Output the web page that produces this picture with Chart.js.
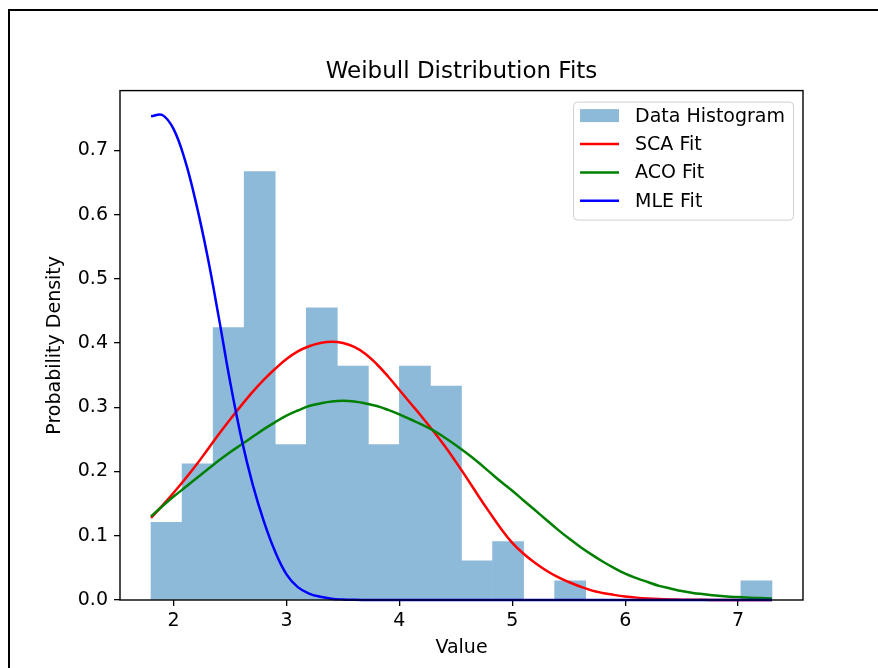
<!DOCTYPE html>
<html>
<head>
<meta charset="utf-8">
<title>Weibull Distribution Fits</title>
<script src="https://cdn.jsdelivr.net/npm/chart.js@4/dist/chart.umd.min.js"></script>
<style>
  body { margin: 0; background: #fff; }
  #wrap { position: relative; width: 878px; height: 668px; overflow: hidden; }
  #frame { position: absolute; left: 8px; top: 9px; right: -10px; bottom: -10px;
           border-left: 2px solid #000; border-top: 2px solid #000; }
  canvas { position: absolute; left: 0; top: 0; }
</style>
</head>
<body>
<div id="wrap">
  <div id="frame"></div>
  <canvas id="weibullChart" width="878" height="668"></canvas>
</div>
<script>
// histogram (20 bins, density)
const binCenters = [1.9375, 2.2125, 2.4875, 2.7625, 3.0375, 3.3125, 3.5875, 3.8625, 4.1375, 4.4125,
                    4.6875, 4.9625, 5.2375, 5.5125, 5.7875, 6.0625, 6.3375, 6.6125, 6.8875, 7.1625];
const histDensity = [0.121, 0.212, 0.424, 0.667, 0.242, 0.455, 0.364, 0.242, 0.364, 0.333,
                     0.061, 0.091, 0, 0.030, 0, 0, 0, 0, 0, 0.030];

// fitted curves
const fitX = [1.8, 1.9, 2.0, 2.1, 2.2, 2.3, 2.4, 2.5, 2.6, 2.7, 2.8, 2.9, 3.0, 3.1, 3.2, 3.3, 3.4, 3.5, 3.6, 3.7,
              3.8, 3.9, 4.0, 4.1, 4.2, 4.3, 4.4, 4.5, 4.6, 4.7, 4.8, 4.9, 5.0, 5.1, 5.2, 5.3, 5.4, 5.5, 5.6, 5.7,
              5.8, 5.9, 6.0, 6.1, 6.2, 6.3, 6.4, 6.5, 6.6, 6.7, 6.8, 6.9, 7.0, 7.1, 7.2, 7.3];
const scaFit = [0.128, 0.147, 0.167, 0.188, 0.210, 0.234, 0.258, 0.281, 0.303, 0.324, 0.343, 0.360, 0.375, 0.387,
                0.395, 0.400, 0.402, 0.400, 0.394, 0.383, 0.367, 0.348, 0.327, 0.306, 0.285, 0.263, 0.240, 0.215,
                0.189, 0.162, 0.136, 0.111, 0.089, 0.072, 0.058, 0.046, 0.036, 0.028, 0.021, 0.015, 0.011, 0.008,
                0.0055, 0.0037, 0.0024, 0.0015, 0.0009, 0.0005, 0.0003, 0.0002, 0.0001, 0, 0, 0, 0, 0];
const acoFit = [0.130, 0.146, 0.161, 0.175, 0.189, 0.203, 0.217, 0.230, 0.242, 0.254, 0.266, 0.277, 0.287, 0.295,
                0.302, 0.306, 0.309, 0.310, 0.309, 0.306, 0.302, 0.296, 0.289, 0.281, 0.273, 0.264, 0.253, 0.241,
                0.228, 0.214, 0.199, 0.184, 0.170, 0.155, 0.140, 0.125, 0.110, 0.096, 0.083, 0.071, 0.060, 0.050,
                0.041, 0.034, 0.028, 0.022, 0.018, 0.014, 0.011, 0.009, 0.007, 0.0055, 0.0045, 0.0035, 0.003, 0.0025];
const mleFit = [0.753, 0.755, 0.733, 0.685, 0.617, 0.535, 0.440, 0.340, 0.252, 0.180, 0.122, 0.075, 0.040, 0.020,
                0.010, 0.005, 0.002, 0.0008, 0.0003, 0.0001, 0, 0, 0, 0, 0, 0, 0, 0,
                0, 0, 0, 0, 0, 0, 0, 0, 0, 0, 0, 0, 0, 0,
                0, 0, 0, 0, 0, 0, 0, 0, 0, 0, 0, 0, 0, 0];

const xTicks = [2, 3, 4, 5, 6, 7];
const yTicks = [0, 0.1, 0.2, 0.3, 0.4, 0.5, 0.6, 0.7];

Chart.defaults.font.family = "'DejaVu Sans', sans-serif";
Chart.defaults.font.size = 19;
Chart.defaults.color = '#000';

const pairs = (xs, ys) => xs.map((x, i) => ({ x: x, y: ys[i] }));

// full box around the plot, like matplotlib spines
const axesBox = {
    id: 'axesBox',
    afterDatasetsDraw(chart) {
        const { ctx, chartArea } = chart;
        ctx.save();
        ctx.strokeStyle = '#000';
        ctx.lineWidth = 1.4;
        ctx.strokeRect(chartArea.left, chartArea.top, chartArea.right - chartArea.left, chartArea.bottom - chartArea.top);
        ctx.restore();
    }
};

// legend inside the plot, upper right
const boxLegend = {
    id: 'boxLegend',
    afterDraw(chart) {
        const { ctx, chartArea } = chart;
        const sets = chart.data.datasets;
        ctx.save();
        ctx.font = "19px 'DejaVu Sans'";
        const textW = Math.max(...sets.map(d => ctx.measureText(d.label).width));
        const w = 62 + textW + 8;
        const h = 118;
        const x0 = chartArea.right - 10 - w;
        const y0 = chartArea.top + 11;
        ctx.beginPath();
        ctx.roundRect(x0 + 0.5, y0 + 0.5, w, h, 4);
        ctx.fillStyle = 'rgba(255,255,255,0.8)';
        ctx.fill();
        ctx.strokeStyle = '#d0d0d0';
        ctx.lineWidth = 1;
        ctx.stroke();
        sets.forEach((d, i) => {
            const cy = y0 + 14 + i * 28.4;
            if (d.type === 'bar') {
                ctx.fillStyle = d.backgroundColor;
                ctx.fillRect(x0 + 7, cy - 6.5, 39, 13);
            } else {
                ctx.strokeStyle = d.borderColor;
                ctx.lineWidth = 2.5;
                ctx.beginPath();
                ctx.moveTo(x0 + 7, cy);
                ctx.lineTo(x0 + 46, cy);
                ctx.stroke();
            }
            ctx.fillStyle = '#000';
            ctx.textBaseline = 'middle';
            ctx.textAlign = 'left';
            ctx.fillText(d.label, x0 + 62, cy + 1);
        });
        ctx.restore();
    }
};

const weibullChart = document.getElementById('weibullChart');

new Chart(weibullChart, {
    type: 'bar',
    data: {
        datasets: [{
            type: 'bar',
            label: 'Data Histogram',
            data: pairs(binCenters, histDensity),
            backgroundColor: '#8ebad9',
            borderWidth: 0,
            barPercentage: 1,
            categoryPercentage: 1,
            order: 4
        }, {
            type: 'line',
            label: 'SCA Fit',
            data: pairs(fitX, scaFit),
            borderColor: '#ff0000',
            borderWidth: 2.5,
            pointRadius: 0,
            tension: 0.4,
            clip: 4,
            order: 3
        }, {
            type: 'line',
            label: 'ACO Fit',
            data: pairs(fitX, acoFit),
            borderColor: '#008000',
            borderWidth: 2.5,
            pointRadius: 0,
            tension: 0.4,
            clip: 4,
            order: 2
        }, {
            type: 'line',
            label: 'MLE Fit',
            data: pairs(fitX, mleFit),
            borderColor: '#0000ff',
            borderWidth: 2.5,
            pointRadius: 0,
            tension: 0.4,
            clip: 4,
            order: 1
        }]
    },
    options: {
        responsive: false,
        animation: false,
        events: [],
        layout: {
            padding: { left: 44, right: 75, top: 0, bottom: 0 }
        },
        scales: {
            x: {
                type: 'linear',
                min: 1.525,
                max: 7.575,
                offset: false,
                afterBuildTicks: (scale) => { scale.ticks = xTicks.map(v => ({ value: v })); },
                afterFit: (scale) => { scale.height = 68; },
                ticks: { padding: 4, callback: (v) => String(v) },
                grid: { offset: false, drawOnChartArea: false, drawTicks: true, tickLength: 6, color: '#000', lineWidth: 1.3 },
                border: { display: false },
                title: { display: true, text: 'Value', padding: { top: 0, bottom: 9 } }
            },
            y: {
                type: 'linear',
                min: 0,
                max: 0.793,
                afterBuildTicks: (scale) => { scale.ticks = yTicks.map(v => ({ value: v })); },
                afterFit: (scale) => { scale.width = 76; },
                ticks: { padding: 6, callback: (v) => v.toFixed(1) },
                grid: { drawOnChartArea: false, drawTicks: true, tickLength: 6, color: '#000', lineWidth: 1.3 },
                border: { display: false },
                title: { display: true, text: 'Probability Density', padding: { top: 0, bottom: 0 } }
            }
        },
        plugins: {
            legend: { display: false },
            tooltip: { enabled: false },
            title: {
                display: true,
                fullSize: false,
                text: 'Weibull Distribution Fits',
                color: '#000',
                font: { size: 23, weight: 'normal' },
                padding: { top: 58, bottom: 5 }
            }
        }
    },
    plugins: [axesBox, boxLegend]
});
</script>
</body>
</html>
